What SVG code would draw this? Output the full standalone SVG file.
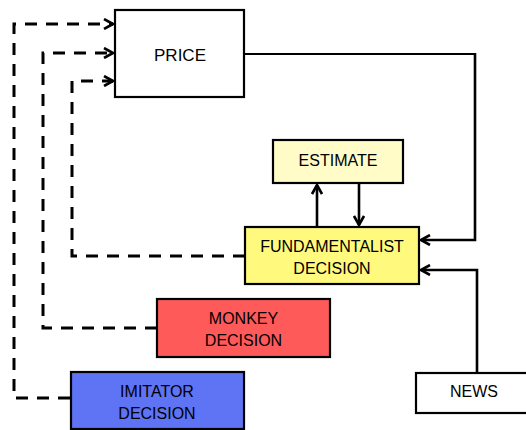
<svg xmlns="http://www.w3.org/2000/svg" width="526" height="430" viewBox="0 0 526 430">
  <defs>
    <marker id="chev" viewBox="0 0 12 12" refX="11" refY="6" markerWidth="12" markerHeight="12" markerUnits="userSpaceOnUse" orient="auto">
      <path d="M2,1 L11,6 L2,11" fill="none" stroke="#000" stroke-width="2.6"/>
    </marker>
  </defs>
  <style>
    .box { stroke: #000; stroke-width: 2.2; }
    .lbl { font-family: "Liberation Sans", Arial, sans-serif; font-size: 16px; fill: #000; text-anchor: middle; }
    .solid { fill: none; stroke: #000; stroke-width: 2.6; }
    .thin { fill: none; stroke: #000; stroke-width: 1.8; }
    .dash { fill: none; stroke: #000; stroke-width: 3; stroke-dasharray: 12 9; }
  </style>
  <rect width="526" height="430" fill="#fff"/>

  <g id="connectors">
    <!-- feedback from the decisions back to the price -->
    <path class="dash" d="M70,398 H14 V24 H113" marker-end="url(#chev)"/>
    <path class="dash" d="M157,328 H43 V53 H113" marker-end="url(#chev)"/>
    <path class="dash" d="M245,256 H72 V81 H113" marker-end="url(#chev)"/>
    <!-- price into the fundamentalist -->
    <path class="thin" d="M244,54 H475"/>
    <path class="solid" d="M475,53 V240 H421" marker-end="url(#chev)"/>
    <!-- news into the fundamentalist -->
    <path class="solid" d="M477,373 V270 H421" marker-end="url(#chev)"/>
    <!-- fundamentalist and estimate -->
    <path class="solid" d="M317,227 V185" marker-end="url(#chev)"/>
    <path class="solid" d="M359,183 V225" marker-end="url(#chev)"/>
  </g>

  <g id="price">
    <rect class="box" x="115" y="10" width="129" height="87" fill="#fff"/>
    <text class="lbl" x="180" y="61" style="font-size:17px">PRICE</text>
  </g>

  <g id="estimate">
    <rect class="box" x="273" y="140" width="130" height="43" fill="#FFFCC8"/>
    <text class="lbl" x="338" y="166">ESTIMATE</text>
  </g>

  <g id="fundamentalist">
    <rect class="box" x="245" y="227" width="174" height="57" fill="#FFFA7E"/>
    <text class="lbl" x="332" y="252">FUNDAMENTALIST</text>
    <text class="lbl" x="332" y="274">DECISION</text>
  </g>

  <g id="monkey">
    <rect class="box" x="157" y="299" width="173" height="58" fill="#FF5A5A"/>
    <text class="lbl" x="243.5" y="324">MONKEY</text>
    <text class="lbl" x="243.5" y="346">DECISION</text>
  </g>

  <g id="imitator">
    <rect class="box" x="71" y="372" width="173" height="57" fill="#5F73F5"/>
    <text class="lbl" x="157" y="397">IMITATOR</text>
    <text class="lbl" x="157" y="419">DECISION</text>
  </g>

  <g id="news">
    <rect class="box" x="416" y="373" width="120" height="40" fill="#fff"/>
    <text class="lbl" x="474" y="397">NEWS</text>
  </g>
</svg>
